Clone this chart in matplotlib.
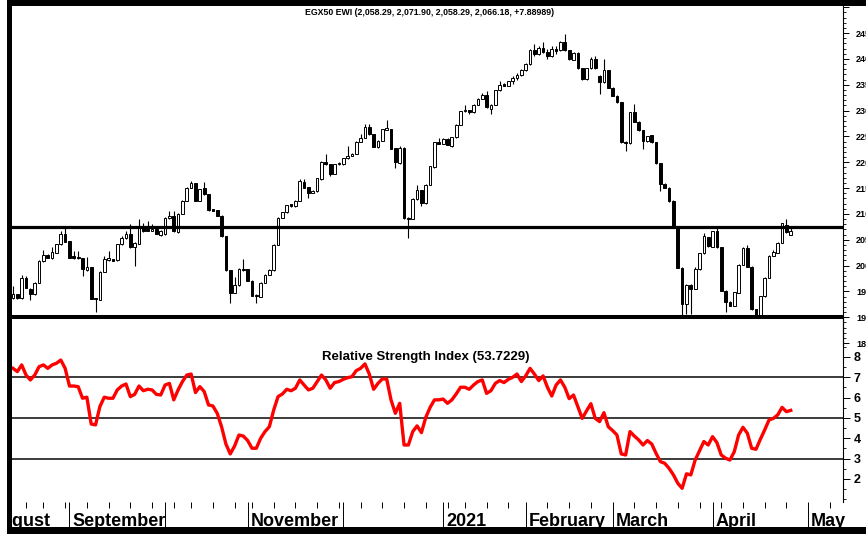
import numpy as np
import pandas as pd
import matplotlib
matplotlib.use("Agg")
import matplotlib.pyplot as plt
from matplotlib.patches import Rectangle
from matplotlib.ticker import FixedLocator, NullFormatter
import matplotlib.transforms as mtransforms

plt.rcParams['font.family'] = ['Liberation Sans', 'DejaVu Sans']

# ---------------- data ----------------
title = "EGX50 EWI (2,058.29, 2,071.90, 2,058.29, 2,066.18, +7.88989)"
rsi_title = "Relative Strength Index (53.7229)"

opens = [1937, 1944, 1937, 1975, 1955, 1944, 1967, 2008, 2020, 2014,
         2025, 2041, 2061, 2047, 2018, 2016, 2014, 1991, 1997, 1937,
         1934, 1988, 2010, 2012, 2010, 2041, 2053, 2062, 2035, 2042,
         2075, 2073, 2067, 2070, 2059, 2061, 2092, 2096, 2064, 2100,
         2125, 2151, 2159, 2125, 2150, 2138, 2109, 2107, 2096, 2057,
         1991, 1947, 1962, 1994, 1993, 1971, 1943, 1940, 1967, 1982,
         1991, 2040, 2093, 2103, 2119, 2115, 2125, 2161, 2152, 2141,
         2144, 2167, 2201, 2196, 2178, 2197, 2196, 2208, 2213, 2216,
         2240, 2247, 2269, 2254, 2229, 2242, 2263, 2264, 2227, 2198,
         2228, 2093, 2091, 2128, 2146, 2121, 2156, 2190, 2239, 2236,
         2245, 2232, 2248, 2273, 2299, 2301, 2297, 2311, 2323, 2330,
         2304, 2311, 2339, 2352, 2348, 2357, 2364, 2368, 2378, 2390,
         2418, 2410, 2422, 2414, 2405, 2420, 2417, 2433, 2417, 2398,
         2412, 2382, 2361, 2382, 2399, 2367, 2355, 2378, 2344, 2329,
         2316, 2240, 2237, 2297, 2278, 2262, 2241, 2252, 2239, 2198,
         2158, 2151, 2125, 2076, 1996, 1926, 1963, 1955, 1993, 2024,
         2055, 2036, 2066, 2035, 1951, 1930, 1922, 1947, 2002, 2034,
         1998, 1915, 1904, 1941, 1976, 2019, 2025, 2044, 2078, 2058.29]
highs = [1960, 1945, 1981, 1980, 1956, 1968, 2010, 2031, 2022, 2035,
         2042, 2067, 2077, 2048, 2028, 2028, 2015, 2016, 1998, 1938,
         1989, 2018, 2028, 2013, 2042, 2057, 2067, 2080, 2045, 2090,
         2083, 2087, 2081, 2071, 2068, 2094, 2106, 2106, 2101, 2126,
         2152, 2164, 2160, 2149, 2162, 2139, 2110, 2108, 2097, 2058,
         1992, 1978, 1995, 2012, 1994, 1972, 1944, 1968, 1983, 1993,
         2041, 2094, 2104, 2118, 2120, 2126, 2167, 2167, 2153, 2146,
         2170, 2203, 2215, 2197, 2197, 2200, 2209, 2232, 2217, 2241,
         2254, 2274, 2275, 2255, 2243, 2265, 2282, 2265, 2228, 2231,
         2229, 2094, 2130, 2155, 2147, 2158, 2193, 2240, 2247, 2246,
         2246, 2249, 2274, 2300, 2311, 2302, 2312, 2324, 2335, 2337,
         2312, 2340, 2358, 2353, 2358, 2366, 2372, 2380, 2392, 2420,
         2428, 2425, 2432, 2420, 2425, 2425, 2435, 2449, 2418, 2413,
         2413, 2383, 2383, 2404, 2405, 2368, 2400, 2379, 2345, 2330,
         2317, 2241, 2298, 2312, 2279, 2263, 2251, 2253, 2240, 2199,
         2159, 2152, 2126, 2077, 1997, 1964, 1964, 1997, 2025, 2063,
         2056, 2067, 2074, 2036, 1952, 1931, 1949, 2003, 2035, 2040,
         1999, 1916, 1942, 1977, 2020, 2030, 2045, 2083, 2090, 2071.90]
lows = [1936, 1936, 1936, 1956, 1933, 1943, 1966, 2007, 2014, 2013,
        2024, 2040, 2045, 2014, 2013, 2012, 1980, 1990, 1935, 1910,
        1933, 1987, 2009, 2008, 2009, 2040, 2052, 2034, 1999, 2041,
        2065, 2066, 2066, 2061, 2057, 2060, 2091, 2065, 2063, 2099,
        2124, 2150, 2124, 2124, 2137, 2106, 2105, 2095, 2056, 1990,
        1927, 1946, 1961, 1990, 1970, 1941, 1927, 1939, 1966, 1981,
        1990, 2039, 2092, 2102, 2114, 2114, 2124, 2150, 2131, 2140,
        2143, 2166, 2195, 2174, 2177, 2195, 2195, 2207, 2212, 2215,
        2239, 2246, 2253, 2229, 2228, 2241, 2262, 2225, 2188, 2197,
        2091, 2054, 2090, 2127, 2115, 2120, 2155, 2189, 2235, 2235,
        2233, 2229, 2247, 2272, 2298, 2294, 2296, 2310, 2322, 2305,
        2293, 2310, 2338, 2347, 2347, 2352, 2360, 2366, 2376, 2389,
        2405, 2408, 2412, 2400, 2404, 2410, 2416, 2416, 2398, 2397,
        2381, 2360, 2360, 2381, 2381, 2332, 2354, 2343, 2328, 2315,
        2238, 2221, 2236, 2277, 2261, 2226, 2240, 2238, 2197, 2145,
        2150, 2123, 2075, 1995, 1900, 1906, 1906, 1954, 1992, 2023,
        2036, 2035, 2034, 1950, 1910, 1921, 1921, 1946, 2001, 1997,
        1914, 1900, 1903, 1940, 1975, 2018, 2024, 2043, 2063, 2058.29]
closes = [1945, 1937, 1975, 1957, 1945, 1967, 2009, 2020, 2015, 2027,
          2041, 2061, 2046, 2015, 2014, 2014, 1993, 1997, 1936, 1935,
          1988, 2012, 2014, 2009, 2041, 2053, 2062, 2035, 2044, 2073,
          2066, 2067, 2070, 2062, 2067, 2093, 2096, 2066, 2100, 2125,
          2151, 2159, 2125, 2148, 2138, 2107, 2106, 2096, 2057, 1991,
          1947, 1962, 1994, 1991, 1971, 1942, 1941, 1967, 1982, 1991,
          2040, 2093, 2103, 2117, 2115, 2125, 2164, 2151, 2141, 2145,
          2169, 2201, 2196, 2178, 2196, 2198, 2208, 2213, 2216, 2240,
          2247, 2269, 2254, 2230, 2242, 2264, 2266, 2226, 2201, 2228,
          2092, 2091, 2129, 2146, 2121, 2156, 2192, 2239, 2236, 2245,
          2234, 2248, 2273, 2299, 2301, 2297, 2311, 2323, 2330, 2306,
          2311, 2339, 2350, 2348, 2357, 2364, 2368, 2378, 2390, 2418,
          2410, 2422, 2414, 2405, 2420, 2415, 2433, 2417, 2399, 2412,
          2382, 2361, 2382, 2399, 2382, 2356, 2378, 2344, 2329, 2316,
          2239, 2238, 2297, 2278, 2262, 2241, 2250, 2239, 2198, 2157,
          2151, 2124, 2076, 1996, 1926, 1963, 1955, 1994, 2024, 2057,
          2037, 2066, 2035, 1951, 1930, 1922, 1948, 2002, 2034, 1998,
          1915, 1904, 1941, 1976, 2019, 2026, 2044, 2082, 2064, 2066.18]
rsi = [74.4, 72.8, 76.1, 71.1, 68.7, 71.1, 75.2, 76.1, 74.4, 76.1,
       76.9, 78.5, 74.4, 65.7, 65.7, 65.4, 59.7, 60.2, 47.0, 46.6,
       55.6, 60.2, 59.7, 59.7, 63.8, 65.7, 66.7, 60.5, 61.6, 65.7,
       63.4, 64.1, 63.8, 61.6, 61.3, 66.2, 67.0, 58.9, 63.8, 67.9,
       71.1, 71.6, 62.5, 65.4, 63.0, 56.4, 55.9, 52.3, 45.7, 37.2,
       32.3, 36.2, 41.6, 41.1, 38.9, 35.1, 35.1, 40.0, 43.3, 45.7,
       53.9, 60.5, 61.8, 64.1, 63.4, 64.6, 68.7, 66.2, 63.8, 64.6,
       67.9, 71.1, 68.7, 64.6, 67.4, 67.9, 69.0, 69.8, 70.3, 73.3,
       74.4, 76.6, 71.6, 64.1, 67.0, 69.2, 69.2, 58.9, 52.3, 57.2,
       36.7, 36.7, 43.3, 46.1, 42.8, 50.3, 55.2, 58.9, 58.9, 59.3,
       57.2, 58.9, 61.8, 65.1, 65.1, 64.1, 66.2, 67.9, 68.7, 62.1,
       63.4, 67.0, 68.4, 67.4, 69.0, 70.0, 71.6, 67.9, 70.7, 74.4,
       71.6, 68.4, 70.7, 65.1, 60.8, 66.2, 68.7, 65.1, 59.5, 61.3,
       55.6, 49.8, 53.5, 57.0, 49.8, 48.2, 52.6, 45.7, 43.8, 41.6,
       32.3, 31.8, 43.3, 41.1, 39.2, 36.7, 38.9, 37.2, 32.6, 28.5,
       27.7, 25.2, 22.0, 17.9, 15.4, 22.5, 22.0, 29.3, 33.9, 38.4,
       36.7, 40.8, 37.9, 31.8, 30.2, 29.3, 33.4, 41.6, 45.4, 42.5,
       35.1, 34.6, 39.5, 44.1, 49.0, 49.8, 51.5, 55.2, 53.1, 53.7229]

resistance = 2075
support = 1900
rsi_levels = [70, 50, 30]
price_ticks = list(range(1850, 2501, 50))
price_labels = ["1850", "1900", "1950", "2000", "2050", "2100", "2150", "2200",
                "2250", "2300", "2350", "2400", "2450", ""]
rsi_ticks = [20, 30, 40, 50, 60, 70, 80]
rsi_labels = ["2", "3", "4", "5", "6", "7", "8"]

# trading calendar (Sun-Thu sessions) and projected dates after the last bar
holidays = ["2020-08-20", "2020-10-06", "2020-10-29", "2021-01-07", "2021-01-28"]
first_date = "2020-08-12"
sessions = pd.bdate_range("2020-08-01", "2021-04-27", freq="C",
                          weekmask="Sun Mon Tue Wed Thu", holidays=holidays)
future = pd.bdate_range("2021-04-28", "2021-05-31")
all_dates = sessions.append(future)
offset = sessions.get_loc(pd.Timestamp(first_date))
xpos = np.arange(len(all_dates)) - offset
xd = xpos[offset:offset + len(closes)]

month_labels = {"2020-08": "August", "2020-09": "September", "2020-11": "November",
                "2021-01": "2021", "2021-02": "February", "2021-03": "March",
                "2021-04": "April", "2021-05": "May"}
periods = all_dates.to_period("M")
is_first = [i == 0 or periods[i] != periods[i - 1] for i in range(len(all_dates))]
month_first = [xpos[i] for i in range(len(all_dates)) if is_first[i]]
month_keys = [str(periods[i]) for i in range(len(all_dates)) if is_first[i]]
mondays = [xpos[i] for i in range(len(all_dates)) if all_dates[i].dayofweek == 0]

# ---------------- layout ----------------
W, H = 866, 534
fig = plt.figure(figsize=(W / 100, H / 100), dpi=100)
fig.patch.set_facecolor("white")

def rect(l, t, r, b):
    return [l / W, 1 - b / H, (r - l) / W, (b - t) / H]

x0px, dxpx = 13.0, 4.345
xlim = ((11 - x0px) / dxpx, (843 - x0px) / dxpx)

def price_at(py):
    return 1900 + (317.2 - py) * 1.936

def rsi_at(py):
    return 70 - (py - 377.3) / 2.033

ax_p = fig.add_axes(rect(11, 6, 843, 345))
ax_r = fig.add_axes(rect(11, 318, 843, 502))
for ax in (ax_p, ax_r):
    ax.set_facecolor("none")
    ax.set_xlim(*xlim)
    for s in ("left", "top", "bottom"):
        ax.spines[s].set_visible(False)
    ax.spines["right"].set_linewidth(0.8)

ax_p.set_ylim(price_at(345), price_at(6))
ax_r.set_ylim(rsi_at(502), rsi_at(318))

# candles
o = np.array(opens, float); h = np.array(highs, float)
l = np.array(lows, float); c = np.array(closes, float)
up = c >= o
lo = np.minimum(o, c)
hgt = np.maximum(np.abs(c - o), 1.2)
ax_p.vlines(xd, l, h, color="black", lw=0.8, zorder=2)
ax_p.bar(xd, hgt, bottom=lo, width=0.62,
         color=np.where(up, "white", "black"), edgecolor="black",
         linewidth=0.7, zorder=3)
ax_p.axhline(resistance, color="black", lw=2.3, zorder=4)
ax_p.axhline(support, color="black", lw=2.9, zorder=4)

# RSI
for lv in rsi_levels:
    ax_r.axhline(lv, color="#1a1a1a", lw=1.2, zorder=1)
ax_r.plot(xd, rsi, color="#ff0000", lw=2.4, zorder=3, solid_joinstyle="round")

# right price axis
ax_p.yaxis.tick_right()
ax_p.yaxis.set_major_locator(FixedLocator(price_ticks))
ax_p.yaxis.set_minor_locator(FixedLocator(list(range(1840, 2501, 10))))
ax_p.set_yticklabels(price_labels)
ax_p.tick_params(axis="y", which="major", length=4.3, width=0.7, pad=5.2,
                 labelsize=6.5, direction="out")
ax_p.tick_params(axis="y", which="minor", length=2.2, width=0.6, direction="out")
for t in ax_p.get_yticklabels():
    t.set_fontweight("bold")
ax_p.set_xticks([])

ax_r.yaxis.tick_right()
ax_r.yaxis.set_major_locator(FixedLocator(rsi_ticks))
ax_r.yaxis.set_minor_locator(FixedLocator(list(range(10, 86, 5))))
ax_r.set_yticklabels(rsi_labels)
ax_r.tick_params(axis="y", which="major", length=5, width=0.7, pad=2.6,
                 labelsize=9, direction="out")
ax_r.tick_params(axis="y", which="minor", length=2.2, width=0.6, direction="out")
for t in ax_r.get_yticklabels():
    t.set_fontweight("bold")

# bottom date axis
ax_r.xaxis.set_major_locator(FixedLocator(month_first))
ax_r.xaxis.set_minor_locator(FixedLocator(mondays))
ax_r.xaxis.set_major_formatter(NullFormatter())
ax_r.tick_params(axis="x", which="major", length=18, width=0.7, direction="out")
ax_r.tick_params(axis="x", which="minor", length=4.3, width=0.7, direction="out")

base = mtransforms.blended_transform_factory(ax_r.transData, fig.transFigure)
for xm, key in zip(month_first, month_keys):
    if key in month_labels:
        shift_px = 10 if key == "2020-08" else 3
        tr = base + mtransforms.ScaledTranslation(shift_px / 100, 0, fig.dpi_scale_trans)
        fig.text(xm, 1 - 525.5 / H, month_labels[key], transform=tr,
                 ha="left", va="baseline", fontsize=13, fontweight="bold",
                 zorder=5)

# titles
fig.text(430 / W, 1 - 12.5 / H, title, ha="center", va="center",
         fontsize=6.3, fontweight="bold")
fig.text(426 / W, 1 - 357 / H, rsi_title, ha="center", va="center",
         fontsize=9.5, fontweight="bold")

# frame
fig.add_artist(Rectangle((0, 0), 7 / W, 1, transform=fig.transFigure,
                         facecolor="white", edgecolor="none", zorder=20))
fig.add_artist(Rectangle((7 / W, 0), 5 / W, 1, transform=fig.transFigure,
                         facecolor="black", edgecolor="none", zorder=21))
fig.add_artist(Rectangle((7 / W, 1 - 6 / H), 1, 6 / H, transform=fig.transFigure,
                         facecolor="black", edgecolor="none", zorder=21))
fig.add_artist(Rectangle((7 / W, 0), 1, 7 / H, transform=fig.transFigure,
                         facecolor="black", edgecolor="none", zorder=21))

fig.savefig("out.png", dpi=100)
